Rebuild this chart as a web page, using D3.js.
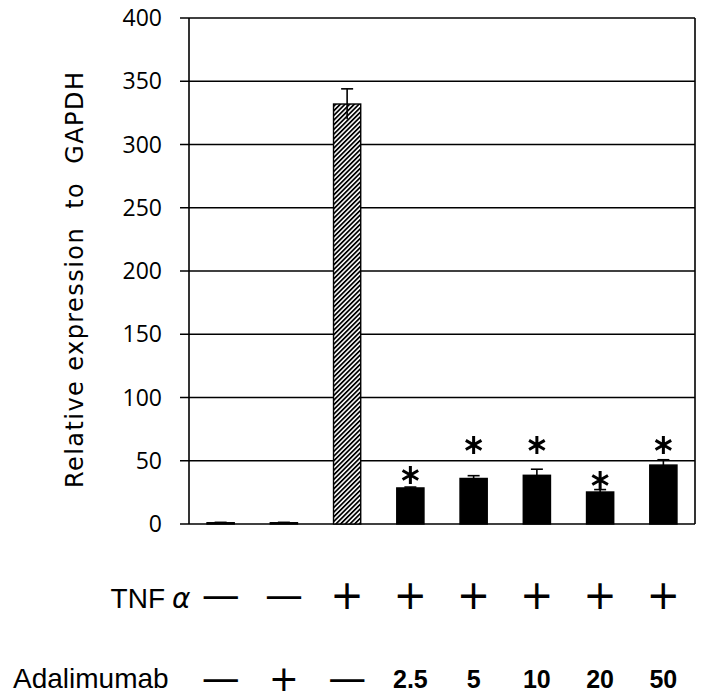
<!DOCTYPE html>
<html>
<head>
<meta charset="utf-8">
<script src="https://cdn.jsdelivr.net/npm/d3@7"></script>
<style>
  html, body { margin: 0; padding: 0; background: #fff; }
  svg { display: block; }
</style>
</head>
<body>
<div id="chart"></div>
<script>
// Relative expression to GAPDH, TNFα +/- and Adalimumab doses

const groups = ["g1", "g2", "g3", "g4", "g5", "g6", "g7", "g8"];
const means = [1, 1, 332, 28.5, 36, 38.5, 25.3, 46.6];
const errors = [0.3, 0.3, 12, 0.7, 2.2, 4.8, 1.9, 4.2];
const hatched = [false, false, true, false, false, false, false, false];
// level (in data units) where the significance star sits, null = none
const starLevel = [null, null, null, 38.7, 62.5, 62.5, 34.8, 62.5];
const tnfRow = ["—", "—", "+", "+", "+", "+", "+", "+"];
const adaRow = ["—", "+", "—", "2.5", "5", "10", "20", "50"];
const yTicks = [0, 50, 100, 150, 200, 250, 300, 350, 400];

const W = 703, H = 700;
const plot = {left: 189, right: 695, top: 18, bottom: 524};

const svg = d3.select("#chart").append("svg")
  .attr("width", W).attr("height", H);

const defs = svg.append("defs");
const pat = defs.append("pattern")
  .attr("id", "hatch")
  .attr("patternUnits", "userSpaceOnUse")
  .attr("width", 3.3).attr("height", 3.3)
  .attr("patternTransform", "rotate(45)");
pat.append("rect").attr("width", 3.3).attr("height", 3.3).attr("fill", "#fff");
pat.append("rect").attr("x", 0).attr("width", 1.75).attr("height", 3.3).attr("fill", "#000");

const x = d3.scaleBand().domain(groups).range([plot.left, plot.right]).padding(0);
const y = d3.scaleLinear().domain([0, 400]).range([plot.bottom, plot.top]);
const barW = x.bandwidth() * 0.43;
const cx = d => x(d) + x.bandwidth() / 2;

// gridlines (including top frame line)
svg.append("g").selectAll("line")
  .data(yTicks)
  .join("line")
    .attr("x1", plot.left - 9).attr("x2", plot.right)
    .attr("y1", d => y(d)).attr("y2", d => y(d))
    .attr("stroke", "#000").attr("stroke-width", 1.6);

// left axis + right frame
svg.append("line")
  .attr("x1", plot.left).attr("x2", plot.left)
  .attr("y1", plot.top).attr("y2", plot.bottom)
  .attr("stroke", "#000").attr("stroke-width", 1.6);
svg.append("line")
  .attr("x1", plot.right).attr("x2", plot.right)
  .attr("y1", plot.top).attr("y2", plot.bottom)
  .attr("stroke", "#000").attr("stroke-width", 1.6);

// tick labels
svg.append("g").selectAll("text")
  .data(yTicks)
  .join("text")
    .attr("x", 162)
    .attr("y", d => y(d) + 8)
    .attr("text-anchor", "end")
    .attr("font-family", "'Open Sans', sans-serif")
    .attr("font-size", 23)
    .text(d => d);

// y title
svg.append("text")
  .attr("transform", "translate(83,280) rotate(-90)")
  .attr("text-anchor", "middle")
  .attr("font-family", "'DejaVu Sans', sans-serif")
  .attr("font-size", 24)
  .attr("textLength", 416)
  .attr("lengthAdjust", "spacing")
  .attr("xml:space", "preserve")
  .style("white-space", "pre")
  .text("Relative expression  to  GAPDH");

// bars
const rows = groups.map((g, i) => ({g, v: means[i], e: errors[i], h: hatched[i], s: starLevel[i]}));

svg.append("g").selectAll("rect")
  .data(rows)
  .join("rect")
    .attr("x", d => cx(d.g) - barW / 2)
    .attr("y", d => y(d.v))
    .attr("width", barW)
    .attr("height", d => y(0) - y(d.v))
    .attr("fill", d => d.h ? "url(#hatch)" : "#000")
    .attr("stroke", "#000").attr("stroke-width", 1.4);

// error bars
const eb = svg.append("g").selectAll("g").data(rows).join("g");
eb.append("line")
  .attr("x1", d => cx(d.g)).attr("x2", d => cx(d.g))
  .attr("y1", d => y(d.v - d.e)).attr("y2", d => y(d.v + d.e))
  .attr("stroke", "#000").attr("stroke-width", 1.6);
eb.append("line")
  .attr("x1", d => cx(d.g) - 6).attr("x2", d => cx(d.g) + 6)
  .attr("y1", d => y(d.v + d.e)).attr("y2", d => y(d.v + d.e))
  .attr("stroke", "#000").attr("stroke-width", 1.6);

// stars (6-armed asterisk, vertical arm on top)
const star = d3.symbol().type(d3.symbolAsterisk).size(230);
svg.append("g").selectAll("path")
  .data(rows.filter(d => d.s != null))
  .join("path")
    .attr("transform", d => `translate(${cx(d.g)},${y(d.s)})`)
    .attr("d", star)
    .attr("fill", "none")
    .attr("stroke", "#000")
    .attr("stroke-width", 3);

// condition rows
svg.append("text")
  .attr("x", 165).attr("y", 608)
  .attr("text-anchor", "end")
  .attr("font-family", "'Liberation Sans', Arial, sans-serif")
  .attr("font-size", 28)
  .text("TNF");
svg.append("text")
  .attr("x", 172).attr("y", 608)
  .attr("font-family", "'DejaVu Sans', sans-serif")
  .attr("font-style", "italic")
  .attr("font-size", 28)
  .text("α");

svg.append("text")
  .attr("x", 13).attr("y", 688)
  .attr("font-family", "'Liberation Sans', Arial, sans-serif")
  .attr("font-size", 28)
  .text("Adalimumab");

function drawRow(vals, yc, plusSize) {
  svg.append("g").selectAll("text")
    .data(vals.map((v, i) => ({v, g: groups[i]})))
    .join("text")
      .attr("x", d => cx(d.g))
      .attr("text-anchor", "middle")
      .each(function(d) {
        const t = d3.select(this);
        if (d.v === "+") {
          t.attr("font-family", "'DejaVu Sans', sans-serif")
           .attr("font-size", plusSize).attr("y", yc + plusSize * 0.335);
        } else if (d.v === "—") {
          t.attr("font-family", "'DejaVu Sans', sans-serif")
           .attr("font-size", 38).attr("y", yc + 11.5);
        } else {
          t.attr("font-family", "'Liberation Sans', Arial, sans-serif")
           .attr("font-size", 25).attr("font-weight", "bold").attr("y", yc + 9);
        }
      })
      .text(d => d.v);
}
drawRow(tnfRow, 596, 40);
drawRow(adaRow, 679, 36);
</script>
</body>
</html>
